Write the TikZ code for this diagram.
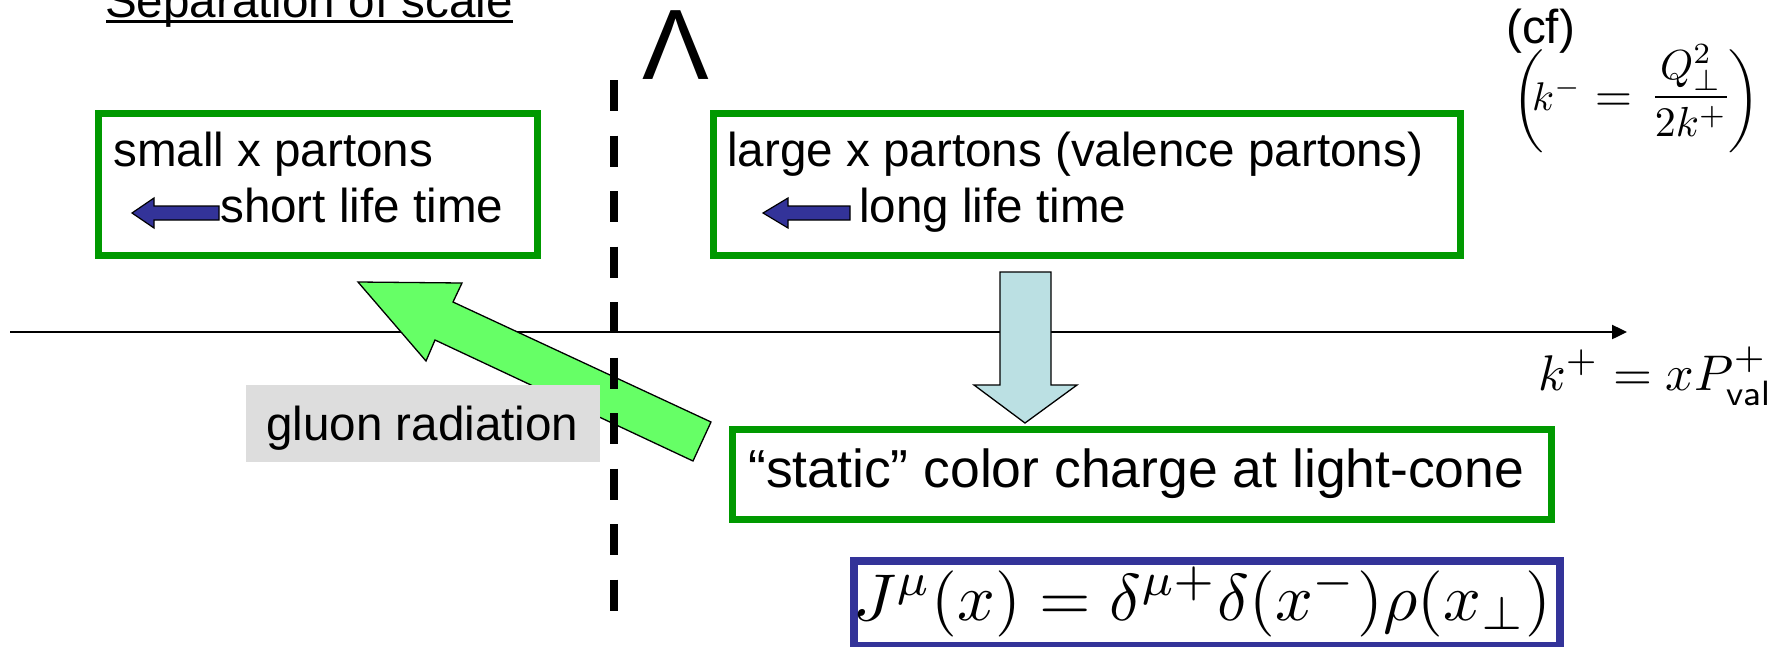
\documentclass[tikz,border=0pt]{standalone}
\usepackage{fontspec}
\setmainfont{Liberation Sans}
\usepackage{graphicx}
\usetikzlibrary{arrows.meta}
\definecolor{boxgreen}{RGB}{0,153,0}
\definecolor{navy}{RGB}{51,51,153}
\definecolor{paleblue}{RGB}{187,224,227}
\definecolor{brightgreen}{RGB}{102,255,102}
\definecolor{greybg}{RGB}{221,221,221}
\begin{document}
\begin{tikzpicture}[x=1pt,y=-1pt,
  txt/.style={font=\fontsize{47.6}{57}\selectfont, inner sep=0pt, anchor=base west},
  bigtxt/.style={font=\fontsize{53.5}{64}\selectfont, inner sep=0pt, anchor=base west},
  mathpiece/.style={inner sep=0pt},
  greenbox/.style={draw=boxgreen, line width=7pt, inner sep=0pt, anchor=north west},
  bluebox/.style={draw=navy, line width=8pt, inner sep=0pt, anchor=north west},
  blockarrow/.style={draw=black, line width=1.3pt, line join=miter},
  smallarrow/.style={draw=black, line width=1.2pt, fill=navy},
  axisline/.style={line width=2.4pt, -{Triangle[length=15pt,width=14pt]}},
  cutline/.style={line width=8pt, dash pattern=on 31pt off 24.5pt}
]
\useasboundingbox (0,0) rectangle (1791,646);
\clip (0,0) rectangle (1791,646);

% axis
\coordinate (axL) at (10,332);
\coordinate (axR) at (1627,332);
\draw[axisline] (axL) -- (axR);

% green (gluon radiation) arrow
\path[blockarrow, fill=brightgreen] (358,282) -- (462,283) -- (453,302) -- (711,422) -- (693,461) -- (435,340) -- (426,361) -- cycle;

% light blue down arrow
\path[blockarrow, fill=paleblue] (1000,272) -- (1051,272) -- (1051,385) -- (1077,385) -- (1025,423) -- (974,385) -- (1000,385) -- cycle;

% gluon radiation label
\node[fill=greybg, minimum width=354pt, minimum height=77pt, inner sep=0pt, anchor=north west] (gluonbox) at (246,385) {};
\node[txt] (gluon) at (266,440) {gluon radiation};

% dashed cut line
\coordinate (dT) at (614,80);
\coordinate (dB) at (614,612);
\draw[cutline] (dT) -- (dB);

% Lambda
\node[inner sep=0pt, anchor=base west, font=\fontsize{100}{100}\selectfont] (lam) at (642,79) {Λ};

% title
\node[txt] (title) at (105,17) {Separation of scale};
\draw[line width=3pt] (106,21.5) -- (513,21.5);

% small x box
\node[greenbox, minimum width=439pt, minimum height=142pt] (smallbox) at (95,110) {};
\node[txt] (smalltxt) at (113,166) {small x partons};
\node[txt] (shorttxt) at (220,222) {short life time};
\path[smallarrow] (132,213) -- (154,198) -- (154,206) -- (219,206) -- (219,220) -- (154,220) -- (154,228) -- cycle;

% large x box
\node[greenbox, minimum width=747pt, minimum height=142pt] (largebox) at (710,110) {};
\node[txt] (largetxt) at (727,166) {large x partons (valence partons)};
\node[txt] (longtxt) at (859,222) {long life time};
\path[smallarrow] (763,213) -- (788,198) -- (788,206) -- (850,206) -- (850,220) -- (788,220) -- (788,228) -- cycle;

% (cf)
\node[txt] (cf) at (1506,43) {(cf)};
\node[mathpiece] (lp) at (1528,101.5) {\resizebox*{!}{103pt}{$\bigg($}};
\node[mathpiece, anchor=base west] (km) at (1532,110) {\scalebox{4.0}{$k^-$}};
\node[mathpiece] (eq) at (1613.5,103) {\scalebox{4.8}{$=$}};
\node[mathpiece, anchor=base] (frac) at (1691,107.5) {\scalebox{4.2}{$\displaystyle\frac{Q_\perp^2}{2k^+}$}};
\node[mathpiece] (rp) at (1744,101.5) {\resizebox*{!}{103pt}{$\bigg)$}};

% axis label
\node[inner sep=0pt, anchor=base west] (kplus) at (1538,390) {\resizebox{235pt}{!}{$k^+=xP^+_{\mathsf{val}}$}};

% static box
\node[greenbox, minimum width=819pt, minimum height=90pt] (staticbox) at (729,425.5) {};
\node[bigtxt] (statictxt) at (748,487) {“static” color charge at light-cone};

% formula box
\node[bluebox, minimum width=706pt, minimum height=85pt] (formbox) at (850,557) {};
\node[inner sep=0pt, anchor=base west] (formula) at (853,620) {\resizebox{698pt}{!}{$J^\mu(x)=\delta^{\mu+}\delta(x^-)\rho(x_\perp)$}};
\end{tikzpicture}
\end{document}
